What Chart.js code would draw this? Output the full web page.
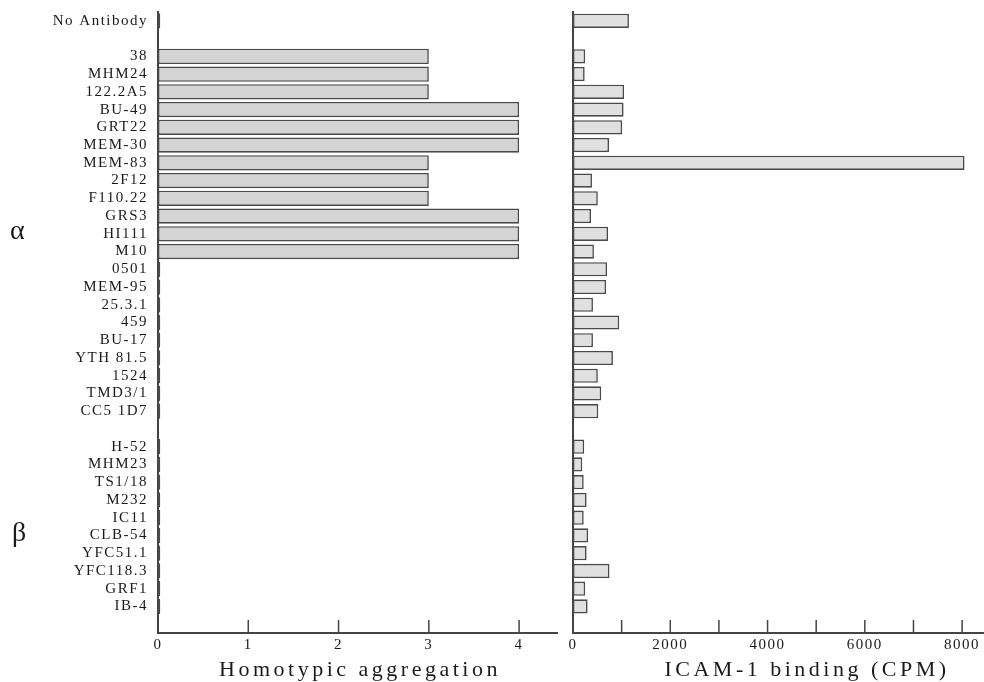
<!DOCTYPE html>
<html>
<head>
<meta charset="utf-8">
<script src="https://cdn.jsdelivr.net/npm/chart.js@4.4.1/dist/chart.umd.min.js"></script>
<style>
  body { margin: 0; background: #fff; }
  #wrap { position: relative; width: 984px; height: 682px; overflow: hidden; }
  canvas { position: absolute; top: 0; }
  .lbl { position: absolute; font-family: 'Liberation Serif', serif; color: #1a1a1a; white-space: nowrap; }
  .title { font-size: 22px; line-height: 22px; letter-spacing: 3.5px; text-align: center; width: 400px; top: 658px; }
  .greek { font-size: 28px; line-height: 28px; }
</style>
</head>
<body>
<div id="wrap">
  <canvas id="left" width="562" height="682" style="left:0"></canvas>
  <canvas id="right" width="424" height="682" style="left:560px"></canvas>
  <span class="lbl greek" style="left:10px; top:216px">α</span>
  <span class="lbl greek" style="left:12px; top:518px">β</span>
  <div class="lbl title" style="left:160px">Homotypic aggregation</div>
  <div class="lbl title" style="left:607px">ICAM-1 binding (CPM)</div>
</div>
<script>
// rows, top to bottom; '' rows are the gaps between groups
const antibodies = ['No Antibody', '',
  '38', 'MHM24', '122.2A5', 'BU-49', 'GRT22', 'MEM-30', 'MEM-83', '2F12', 'F110.22',
  'GRS3', 'HI111', 'M10', '0501', 'MEM-95', '25.3.1', '459', 'BU-17', 'YTH 81.5',
  '1524', 'TMD3/1', 'CC5 1D7', '',
  'H-52', 'MHM23', 'TS1/18', 'M232', 'IC11', 'CLB-54', 'YFC51.1', 'YFC118.3', 'GRF1', 'IB-4', ''];

// homotypic aggregation score (0 drawn as a thin stub)
const aggregation = [0.025, null,
  3, 3, 3, 4, 4, 4, 3, 3, 3,
  4, 4, 4, 0.025, 0.025, 0.025, 0.025, 0.025, 0.025,
  0.025, 0.025, 0.025, null,
  0.025, 0.025, 0.025, 0.025, 0.025, 0.025, 0.025, 0.025, 0.025, 0.025, null];

// ICAM-1 binding, CPM
const icamBinding = [1150, null,
  250, 240, 1050, 1040, 1010, 740, 8050, 390, 510,
  370, 720, 430, 700, 680, 410, 950, 410, 820,
  510, 580, 520, null,
  230, 190, 220, 280, 220, 310, 280, 750, 250, 300, null];

const aggTicks = [0, 1, 2, 3, 4];
const icamTicks = [0, 1000, 2000, 3000, 4000, 5000, 6000, 7000, 8000];

Chart.defaults.font.family = "'Liberation Serif', serif";
Chart.defaults.color = '#1a1a1a';

// short tick marks pointing up into the plot
const innerTicks = {
  id: 'innerTicks',
  beforeDraw(chart) {
    chart.ctx.letterSpacing = '1.5px';
  },
  afterDatasetsDraw(chart) {
    const {ctx, chartArea, scales: {x}} = chart;
    ctx.save();
    ctx.strokeStyle = '#444';
    ctx.lineWidth = 1.5;
    x.ticks.forEach(t => {
      const px = x.getPixelForValue(t.value);
      if (px <= chartArea.left + 2) return;
      ctx.beginPath();
      ctx.moveTo(px, chartArea.bottom);
      ctx.lineTo(px, chartArea.bottom - 13);
      ctx.stroke();
    });
    ctx.restore();
  }
};

function makeChart(id, values, opts) {
  return new Chart(document.getElementById(id), {
    type: 'bar',
    data: {
      labels: antibodies,
      datasets: [{
        data: values,
        backgroundColor: opts.fill,
        borderColor: '#4a4a4a',
        borderWidth: 1.6,
        borderSkipped: false,
        barPercentage: opts.barPct,
        categoryPercentage: 1
      }]
    },
    options: {
      indexAxis: 'y',
      responsive: false,
      animation: false,
      layout: { padding: { top: 12, right: opts.padRight, left: 0, bottom: 0 } },
      plugins: { legend: { display: false }, tooltip: { enabled: false } },
      scales: {
        y: {
          grid: { display: false, drawTicks: false },
          border: { color: '#444', width: 2 },
          ticks: { display: opts.showLabels, padding: 10, autoSkip: false, font: { size: 15 } },
          afterFit(s) {
            s.width = opts.yWidth;
            s.paddingTop = 0;
            s.paddingBottom = 0;
          }
        },
        x: {
          min: 0,
          max: opts.max,
          grid: { display: false, drawTicks: false },
          border: { color: '#444', width: 2 },
          ticks: {
            padding: 3,
            font: { size: 15 },
            callback: opts.tickLabel
          },
          afterBuildTicks(s) { s.ticks = opts.ticks.map(v => ({ value: v })); },
          afterFit(s) { s.height = 49; }
        }
      }
    },
    plugins: [innerTicks]
  });
}

makeChart('left', aggregation, {
  fill: '#d4d4d4', barPct: 0.86, padRight: 5, max: 4.42,
  showLabels: true, yWidth: 158, ticks: aggTicks,
  tickLabel: v => v
});

makeChart('right', icamBinding, {
  fill: '#e0e0e0', barPct: 0.8, padRight: 0, max: 8450,
  showLabels: false, yWidth: 13, ticks: icamTicks,
  tickLabel: v => (v % 2000 === 0 ? v : '')
});
</script>
</body>
</html>
